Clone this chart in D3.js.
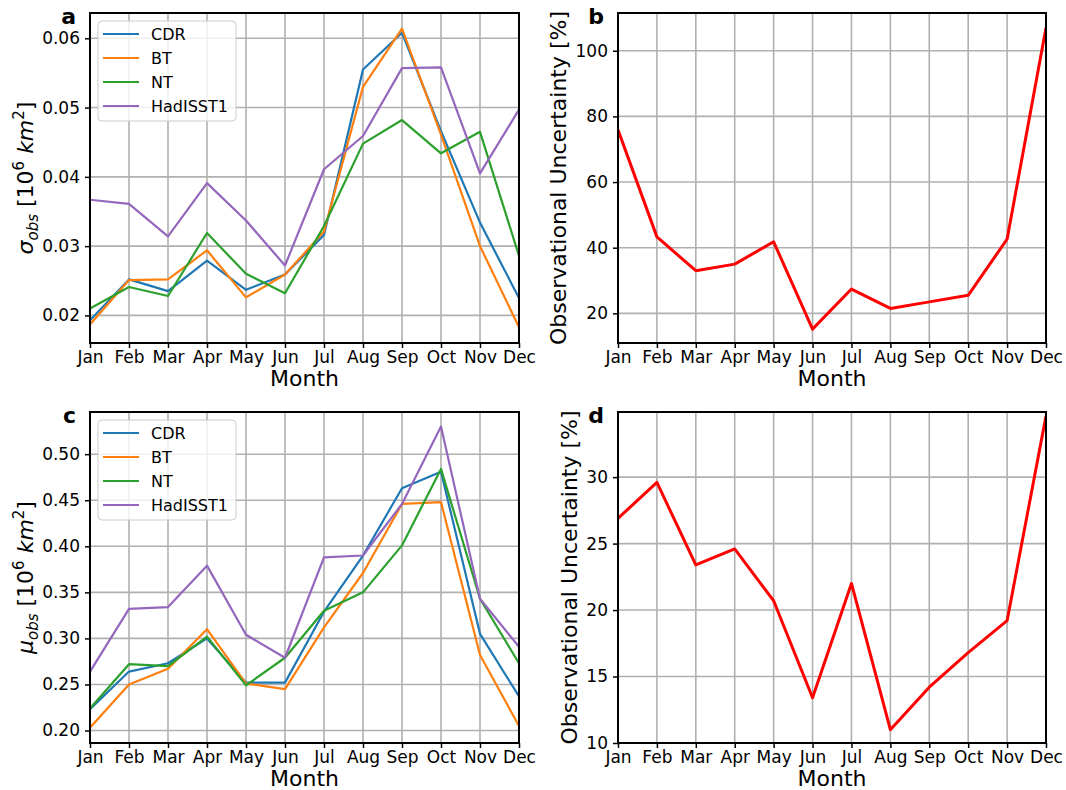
<!DOCTYPE html>
<html>
<head>
<meta charset="utf-8">
<script src="https://cdn.jsdelivr.net/npm/d3@7"></script>
<style>
  body { margin: 0; background: #fff; }
  svg text { font-family: "DejaVu Sans", sans-serif; fill: #000; }
</style>
</head>
<body>
<svg id="fig" width="1066" height="790"></svg>
<script>
var months = ["Jan","Feb","Mar","Apr","May","Jun","Jul","Aug","Sep","Oct","Nov","Dec"];
var seriesNames = ["CDR", "BT", "NT", "HadISST1"];
var seriesColors = ["#1f77b4", "#ff7f0e", "#2ca02c", "#9467bd"];

// panel a : sigma obs (10^6 km2)
var sigmaCDR = [0.0193, 0.0252, 0.0235, 0.0279, 0.0237, 0.0259, 0.0316, 0.0555, 0.0608, 0.0466, 0.0334, 0.0225];
var sigmaBT  = [0.0187, 0.0251, 0.0252, 0.0294, 0.0226, 0.0259, 0.0321, 0.0530, 0.0614, 0.0461, 0.0300, 0.0183];
var sigmaNT  = [0.0210, 0.0241, 0.0228, 0.0319, 0.0260, 0.0232, 0.0329, 0.0448, 0.0482, 0.0434, 0.0465, 0.0286];
var sigmaHad = [0.0367, 0.0361, 0.0314, 0.0391, 0.0337, 0.0272, 0.0411, 0.0459, 0.0557, 0.0558, 0.0405, 0.0497];

// panel b : observational uncertainty of sigma (%)
var uncSigma = [75.9, 43.3, 33.0, 35.0, 41.8, 15.2, 27.4, 21.5, 23.5, 25.5, 42.6, 107.0];

// panel c : mu obs (10^6 km2)
var muCDR = [0.223, 0.264, 0.273, 0.300, 0.252, 0.252, 0.329, 0.390, 0.463, 0.481, 0.305, 0.237];
var muBT  = [0.203, 0.250, 0.267, 0.310, 0.251, 0.245, 0.312, 0.371, 0.446, 0.448, 0.282, 0.205];
var muNT  = [0.224, 0.272, 0.270, 0.302, 0.249, 0.279, 0.330, 0.350, 0.401, 0.484, 0.343, 0.273];
var muHad = [0.264, 0.332, 0.334, 0.379, 0.304, 0.279, 0.388, 0.390, 0.446, 0.530, 0.343, 0.291];

// panel d : observational uncertainty of mu (%)
var uncMu = [26.9, 29.6, 23.4, 24.6, 20.7, 13.4, 22.0, 11.0, 14.2, 16.8, 19.2, 34.6];

var sigmaTicks = [0.02, 0.03, 0.04, 0.05, 0.06];
var uncSigmaTicks = [20, 40, 60, 80, 100];
var muTicks = [0.20, 0.25, 0.30, 0.35, 0.40, 0.45, 0.50];
var uncMuTicks = [10, 15, 20, 25, 30];

var svg = d3.select("#fig");

function panel(opt) {
    var x = d3.scalePoint().domain(months).range([opt.x0, opt.x1]);
    var y = d3.scaleLinear().domain(opt.domain).range([opt.y1, opt.y0]);
    var g = svg.append("g");

    g.append("clipPath").attr("id", "clip" + opt.id)
        .append("rect")
        .attr("x", opt.x0).attr("y", opt.y0)
        .attr("width", opt.x1 - opt.x0).attr("height", opt.y1 - opt.y0);

    // grid
    g.selectAll(".vg").data(months).enter().append("line")
        .attr("x1", function(d) { return x(d); }).attr("x2", function(d) { return x(d); })
        .attr("y1", opt.y0).attr("y2", opt.y1)
        .attr("stroke", "#b0b0b0").attr("stroke-width", 1.6);
    g.selectAll(".hg").data(opt.ticks).enter().append("line")
        .attr("x1", opt.x0).attr("x2", opt.x1)
        .attr("y1", function(d) { return y(d); }).attr("y2", function(d) { return y(d); })
        .attr("stroke", "#b0b0b0").attr("stroke-width", 1.6);

    // lines
    var line = d3.line()
        .x(function(d, i) { return x(months[i]); })
        .y(function(d) { return y(d); });
    opt.series.forEach(function(s, k) {
        g.append("path")
            .attr("d", line(s))
            .attr("clip-path", "url(#clip" + opt.id + ")")
            .attr("fill", "none")
            .attr("stroke", opt.colors[k])
            .attr("stroke-width", opt.lw)
            .attr("stroke-linejoin", "round");
    });

    // axes
    var xAxis = d3.axisBottom(x).tickSize(5).tickPadding(3);
    var ax = g.append("g").attr("transform", "translate(0," + opt.y1 + ")").call(xAxis);
    var yAxis = d3.axisLeft(y).tickValues(opt.ticks).tickFormat(d3.format(opt.fmt)).tickSize(5).tickPadding(5);
    var ay = g.append("g").attr("transform", "translate(" + opt.x0 + ",0)").call(yAxis);
    [ax, ay].forEach(function(a) {
        a.select(".domain").remove();
        a.selectAll(".tick line").attr("stroke", "#000").attr("stroke-width", 1.5);
        a.selectAll(".tick text").attr("font-size", 17).attr("font-family", "DejaVu Sans").attr("fill", "#000");
    });

    g.append("rect")
        .attr("x", opt.x0).attr("y", opt.y0)
        .attr("width", opt.x1 - opt.x0).attr("height", opt.y1 - opt.y0)
        .attr("fill", "none").attr("stroke", "#000").attr("stroke-width", 2);

    g.append("text")
        .attr("x", (opt.x0 + opt.x1) / 2).attr("y", opt.y1 + 43)
        .attr("text-anchor", "middle").attr("font-size", 22)
        .text("Month");

    g.append("text")
        .attr("x", opt.x0 - 14).attr("y", opt.y0 + 11)
        .attr("text-anchor", "end").attr("font-size", 22).attr("font-weight", "bold")
        .text(opt.letter);

    var yl = g.append("text")
        .attr("transform", "translate(" + opt.ylx + "," + ((opt.y0 + opt.y1) / 2) + ") rotate(-90)")
        .attr("text-anchor", "middle").attr("font-size", 22);
    opt.ylabel(yl);

    if (opt.legend) {
        var lx = opt.x0 + 8, ly = opt.y0 + 8;
        g.append("rect")
            .attr("x", lx).attr("y", ly).attr("width", 138).attr("height", 100).attr("rx", 4)
            .attr("fill", "#fff").attr("fill-opacity", 0.8)
            .attr("stroke", "#cccccc").attr("stroke-width", 1);
        seriesNames.forEach(function(n, k) {
            var yy = ly + 13 + k * 24;
            g.append("line")
                .attr("x1", lx + 5).attr("x2", lx + 41).attr("y1", yy).attr("y2", yy)
                .attr("stroke", opt.colors[k]).attr("stroke-width", 2.2);
            g.append("text")
                .attr("x", lx + 53).attr("y", yy).attr("dy", "0.36em")
                .attr("font-size", 16).text(n);
        });
    }
}

function obsLabel(sym) {
    return function(t) {
        t.append("tspan").attr("font-style", "italic").text(sym);
        t.append("tspan").attr("font-style", "italic").attr("font-size", 15).attr("dy", 5).text("obs");
        t.append("tspan").attr("dy", -5).text(" [10");
        t.append("tspan").attr("font-size", 15).attr("dy", -9).text("6");
        t.append("tspan").attr("dy", 9).attr("font-style", "italic").text(" km");
        t.append("tspan").attr("font-size", 15).attr("dy", -9).text("2");
        t.append("tspan").attr("dy", 9).text("]");
    };
}

function uncLabel(t) { t.text("Observational Uncertainty [%]"); }

panel({ id: "a", letter: "a", x0: 90, x1: 519, y0: 13, y1: 343,
        domain: [0.01602, 0.06365], ticks: sigmaTicks, fmt: ".2f",
        series: [sigmaCDR, sigmaBT, sigmaNT, sigmaHad], colors: seriesColors, lw: 2.2,
        legend: true, ylx: 33, ylabel: obsLabel("σ") });

panel({ id: "b", letter: "b", x0: 618, x1: 1046, y0: 13, y1: 343,
        domain: [10.97, 111.5], ticks: uncSigmaTicks, fmt: "d",
        series: [uncSigma], colors: ["#ff0000"], lw: 3,
        legend: false, ylx: 566, ylabel: uncLabel });

panel({ id: "c", letter: "c", x0: 90, x1: 519, y0: 412, y1: 743,
        domain: [0.18645, 0.5458], ticks: muTicks, fmt: ".2f",
        series: [muCDR, muBT, muNT, muHad], colors: seriesColors, lw: 2.2,
        legend: true, ylx: 33, ylabel: obsLabel("μ") });

panel({ id: "d", letter: "d", x0: 618, x1: 1046, y0: 412, y1: 743,
        domain: [10, 34.9], ticks: uncMuTicks, fmt: "d",
        series: [uncMu], colors: ["#ff0000"], lw: 3,
        legend: false, ylx: 577, ylabel: uncLabel });
</script>
</body>
</html>
